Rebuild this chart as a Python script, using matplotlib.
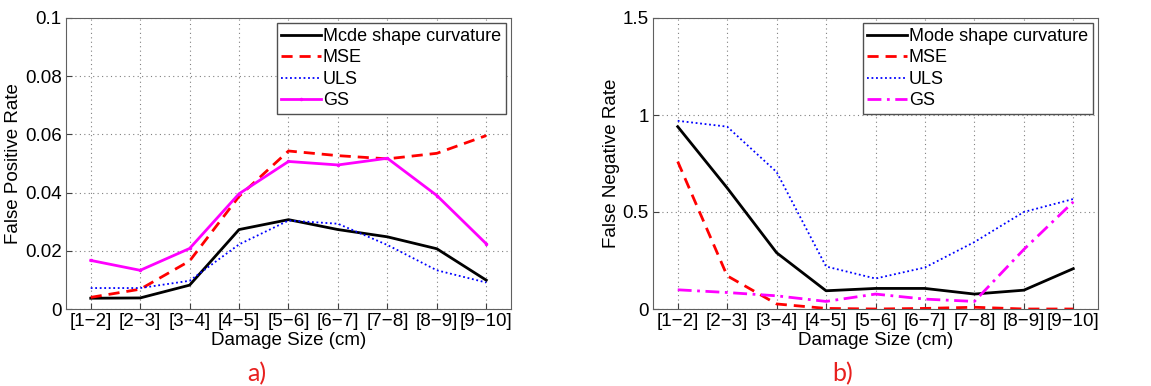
import matplotlib
matplotlib.use("Agg")
import matplotlib.pyplot as plt
import numpy as np

plt.rcParams['font.family'] = ['Liberation Sans', 'DejaVu Sans']

categories = ["[1\u22122]", "[2\u22123]", "[3\u22124]", "[4\u22125]", "[5\u22126]",
              "[6\u22127]", "[7\u22128]", "[8\u22129]", "[9\u221210]"]

# Panel a) False Positive Rate
fpr_curv = [0.0037, 0.0038, 0.0082, 0.0273, 0.0307, 0.0273, 0.0248, 0.0207, 0.0099]
fpr_mse = [0.0040, 0.0068, 0.0165, 0.0387, 0.0543, 0.0527, 0.0516, 0.0535, 0.0596]
fpr_uls = [0.0072, 0.0072, 0.0097, 0.0222, 0.0304, 0.0293, 0.0220, 0.0133, 0.0091]
fpr_gs = [0.0167, 0.0133, 0.0208, 0.0396, 0.0507, 0.0495, 0.0518, 0.0390, 0.0224]

# Panel b) False Negative Rate
fnr_curv = [0.94, 0.624, 0.29, 0.094, 0.106, 0.106, 0.077, 0.097, 0.208]
fnr_mse = [0.76, 0.171, 0.026, 0.003, 0.0, 0.003, 0.009, 0.0, 0.0]
fnr_uls = [0.97, 0.94, 0.706, 0.219, 0.157, 0.214, 0.345, 0.50, 0.567]
fnr_gs = [0.099, 0.085, 0.068, 0.039, 0.077, 0.051, 0.039, 0.307, 0.552]

x = np.arange(1, len(categories) + 1)

W, H = 1151, 386
fig = plt.figure(figsize=(W / 100, H / 100), dpi=100)
ax1 = fig.add_axes([66 / W, 77 / H, 445 / W, 291 / H])
ax2 = fig.add_axes([653 / W, 77 / H, 445 / W, 291 / H])

ax1.plot(x, fpr_curv, color='black', lw=2, label='Mcde shape curvature')
ax1.plot(x, fpr_mse, color='red', lw=2, ls=(0, (4, 2.5)), label='MSE')
ax1.plot(x, fpr_uls, color='blue', lw=1.3, ls=(0, (1, 1.5)), label='ULS')
ax1.plot(x, fpr_gs, color='magenta', lw=2, marker='.', markersize=3, label='GS')
ax1.set_ylim(0, 0.1)
ax1.set_yticks([0, 0.02, 0.04, 0.06, 0.08, 0.1])
ax1.set_yticklabels(['0', '0.02', '0.04', '0.06', '0.08', '0.1'])
ax1.set_ylabel('False Positive Rate', fontsize=13.5, labelpad=2)

ax2.plot(x, fnr_curv, color='black', lw=2, label='Mode shape curvature')
ax2.plot(x, fnr_mse, color='red', lw=2, ls=(0, (4, 2.5)), label='MSE')
ax2.plot(x, fnr_uls, color='blue', lw=1.3, ls=(0, (1, 1.5)), label='ULS')
ax2.plot(x, fnr_gs, color='magenta', lw=2, ls=(0, (5, 2, 1, 2)), label='GS')
ax2.set_ylim(0, 1.5)
ax2.set_yticks([0, 0.5, 1, 1.5])
ax2.set_yticklabels(['0', '0.5', '1', '1.5'])
ax2.set_ylabel('False Negative Rate', fontsize=13.5, labelpad=2)

for ax in (ax1, ax2):
    ax.set_xlim(0.5, 9.5)
    ax.set_xticks(x)
    ax.set_xticklabels(categories)
    ax.tick_params(direction='in', labelsize=13.5, length=4, pad=3, color='#404040')
    ax.set_xlabel('Damage Size (cm)', fontsize=13.5, labelpad=1)
    ax.grid(True, ls=(0, (1, 3)), color='#808080', lw=0.8)
    for s in ax.spines.values():
        s.set_color('#606060')
    leg = ax.legend(loc='upper right', fontsize=13, fancybox=False, framealpha=1,
                    borderpad=0.25, labelspacing=0.25, handlelength=2.2,
                    handletextpad=0.1, borderaxespad=0.3)
    leg.get_frame().set_edgecolor('#505050')
    leg.get_frame().set_linewidth(1.0)

fig.text(257 / W, 1 - 374 / H, 'a)', color='#e8201e', fontsize=18,
         ha='center', va='center', family=['Lato', 'DejaVu Sans'])
fig.text(843 / W, 1 - 374 / H, 'b)', color='#e8201e', fontsize=18,
         ha='center', va='center', family=['Lato', 'DejaVu Sans'])

fig.savefig('out.png', dpi=100)
